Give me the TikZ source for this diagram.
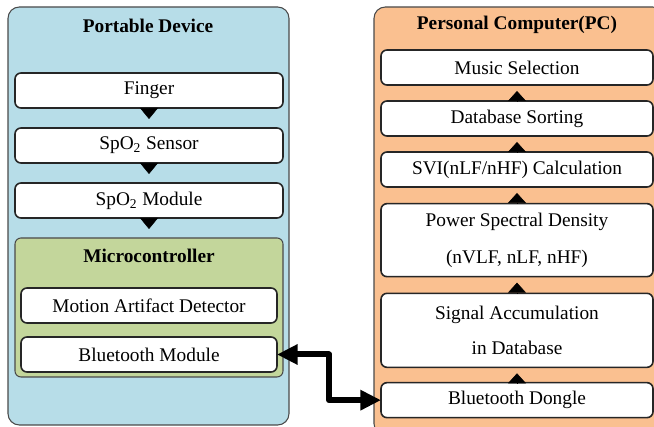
\documentclass[tikz,border=0pt]{standalone}
\usepackage{fontspec}
\setmainfont{Liberation Serif}
\definecolor{DevBlue}{HTML}{B7DDE8}
\definecolor{PcOrange}{HTML}{FAC090}
\definecolor{McuGreen}{HTML}{C3D69B}
\definecolor{EdgeGray}{HTML}{4A4A4A}
\usetikzlibrary{arrows.meta,positioning,calc}

\begin{document}
\begin{tikzpicture}[x=0.75pt,y=0.75pt,
  frame/.style={draw=EdgeGray,line width=0.8pt,rounded corners=8.5pt,outer sep=0pt},
  blk/.style={draw=black!85,line width=1.2pt,rounded corners=4.5pt,fill=white,align=center,font=\fontsize{14.5}{17}\selectfont,minimum height=26.25pt,inner sep=0pt,outer sep=0pt},
  ttl/.style={font=\fontsize{14.5}{17}\selectfont\bfseries},
  down/.style={-{Triangle[length=8.25pt,width=13.5pt]},line width=0.4pt,shorten >=6.75pt},
  up/.style={-{Triangle[length=7.5pt,width=13.5pt]},line width=0.4pt,shorten >=4.5pt},
  link/.style={{Triangle[length=15.5pt,width=14.5pt]}-{Triangle[length=15.5pt,width=14.5pt]},line width=4.5pt,line join=round}
]
  \clip (0,0) rectangle (654,427);
  \fill[white] (0,0) rectangle (654,427);
  % portable device side
  \node[frame,fill=DevBlue,minimum width=210.75pt,minimum height=313.5pt] (dev) at (148.5,211) {};
  \node[ttl] (devt) at (148,401) {Portable Device};
  \node[blk,minimum width=201pt] (fng) at (149,336.5) {Finger};
  \node[blk,minimum width=201pt,below=15pt of fng] (sen) {SpO\textsubscript{2} Sensor};
  \node[blk,minimum width=201pt,below=15pt of sen] (mod) {SpO\textsubscript{2} Module};
  \node[frame,fill=McuGreen,rounded corners=4.5pt,minimum width=201pt,minimum height=104.25pt,below=15pt of mod] (mcu) {};
  \node[ttl] (mcut) at ($(mcu.north)+(0,-18)$) {Microcontroller};
  \node[blk,minimum width=192pt] (mad) at (149,121.5) {Motion Artifact Detector};
  \node[blk,minimum width=192pt,below=10.5pt of mad] (bm) {Bluetooth Module};
  \draw[down] (fng) -- (sen);
  \draw[down] (sen) -- (mod);
  \draw[down] (mod) -- (mcu);
  % PC side
  \node[frame,fill=PcOrange,minimum width=217.5pt,minimum height=321pt] (pc) at (519,206) {};
  \node[ttl] (pct) at (517,402) {Personal Computer(PC)};
  \node[blk,minimum width=204pt] (msc) at (517,359.5) {Music Selection};
  \node[blk,minimum width=204pt,below=12pt of msc] (dbs) {Database Sorting};
  \node[blk,minimum width=204pt,below=12pt of dbs] (svi) {SVI(nLF/nHF) Calculation};
  \node[blk,minimum width=204pt,minimum height=54.75pt,below=12.5pt of svi] (psd) {Power Spectral Density\\[10.5pt](nVLF, nLF, nHF)};
  \node[blk,minimum width=204pt,minimum height=55.5pt,below=12.5pt of psd] (sac) {Signal Accumulation\\[9.5pt]in Database};
  \node[blk,minimum width=204pt,below=11.5pt of sac] (bd) {Bluetooth Dongle};
  \draw[up] (dbs) -- (msc);
  \draw[up] (svi) -- (dbs);
  \draw[up] (psd) -- (svi);
  \draw[up] (sac) -- (psd);
  \draw[up] (bd) -- (sac);
  % wireless link
  \draw[link] (bm.east) -| ($(bm.east)!.5!(bd.west)$) |- (bd.west);
\end{tikzpicture}
\end{document}
